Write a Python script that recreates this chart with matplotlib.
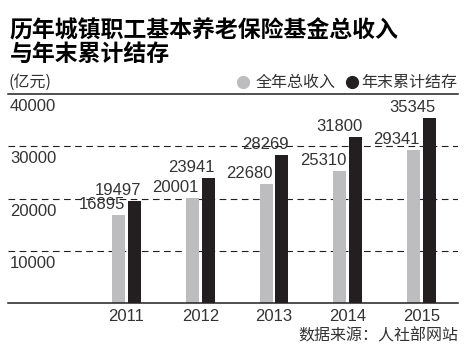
import matplotlib
matplotlib.use("Agg")
import matplotlib.pyplot as plt
from matplotlib.lines import Line2D
import numpy as np

plt.rcParams['font.family'] = ['Liberation Sans', 'Noto Sans CJK SC', 'DejaVu Sans']

# ----------------------------
# Data (亿元)
# ----------------------------
years = ["2011", "2012", "2013", "2014", "2015"]
income = [16895, 20001, 22680, 25310, 29341]
balance = [19497, 23941, 28269, 31800, 35345]
yticks = [10000, 20000, 30000, 40000]

GREY = "#bdbdbf"
BLACK = "#231f20"
TEXT = "#333333"
CJK = ['Noto Sans CJK SC', 'DejaVu Sans']

W, H = 468, 355
fig = plt.figure(figsize=(W / 100, H / 100), dpi=100)
fig.patch.set_facecolor("white")

# axes placed in pixel terms: x 8..458, y 94 (40000) .. 303 (0)
ax = fig.add_axes([8 / W, (H - 303) / H, 450 / W, 209 / H])
ax.set_ylim(0, 40000)
ax.set_xlim(-1.607, 4.495)

x = np.arange(len(years))
bw = 0.176
off = 0.108
ax.bar(x - off, income, bw, color=GREY, zorder=3)
ax.bar(x + off, balance, bw, color=BLACK, zorder=3)

# grid lines
for v in yticks:
    if v == 40000:
        ax.axhline(v, color=BLACK, lw=1.1, zorder=1, clip_on=False)
    else:
        ax.axhline(v, color=BLACK, lw=0.8, ls=(0, (6, 4)), zorder=1)
ax.axhline(0, color=BLACK, lw=1.1, zorder=4, clip_on=False)

# y labels below each line
for v in yticks:
    ax.annotate(str(v), xy=(0, v), xycoords=("axes fraction", "data"),
                xytext=(2, -5), textcoords="offset pixels",
                ha="left", va="top", fontsize=12, color=TEXT)

# value labels, right-aligned to bar edge
for i in range(len(years)):
    ax.annotate(str(income[i]), xy=(x[i] - off + bw / 2, income[i]),
                xytext=(0, 3), textcoords="offset pixels",
                ha="right", va="bottom", fontsize=12, color=TEXT, zorder=5)
    ax.annotate(str(balance[i]), xy=(x[i] + off + bw / 2, balance[i]),
                xytext=(0, 3), textcoords="offset pixels",
                ha="right", va="bottom", fontsize=12, color=TEXT, zorder=5)

ax.set_xticks(x)
ax.set_xticklabels(years, fontsize=12, color=TEXT)
ax.tick_params(axis="x", length=0, pad=4)
ax.set_yticks([])
for s in ax.spines.values():
    s.set_visible(False)

# title
fig.text(10 / W, 1 - 20 / H, "历年城镇职工基本养老保险基金总收入",
         family=CJK, fontsize=16.5, fontweight="heavy", color="black",
         ha="left", va="top")
fig.text(10 / W, 1 - 43 / H, "与年末累计结存",
         family=CJK, fontsize=16.5, fontweight="heavy", color="black",
         ha="left", va="top")

fig.text(9 / W, 1 - 82 / H, "(亿元)", family=CJK, fontsize=11.5,
         color=TEXT, ha="left", va="center")

# legend
fig.add_artist(Line2D([243 / W], [1 - 82 / H], marker="o", markersize=8.5,
                      color=GREY, transform=fig.transFigure))
fig.text(256 / W, 1 - 82 / H, "全年总收入", family=CJK, fontsize=11.5,
         color=TEXT, ha="left", va="center")
fig.add_artist(Line2D([352 / W], [1 - 82 / H], marker="o", markersize=8.5,
                      color=BLACK, transform=fig.transFigure))
fig.text(361 / W, 1 - 82 / H, "年末累计结存", family=CJK, fontsize=11.5,
         color=TEXT, ha="left", va="center")

# source
fig.text(458 / W, 1 - 336 / H, "数据来源：人社部网站", family=CJK,
         fontsize=11.5, color=TEXT, ha="right", va="center")

fig.savefig("out.png", dpi=100)
plt.close()
